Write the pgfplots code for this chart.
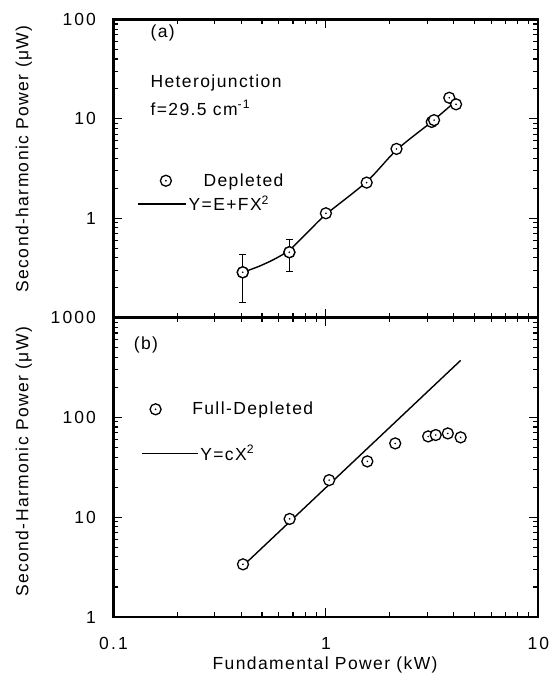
\documentclass[border=0pt]{standalone}
\usepackage{pgfplots}
\pgfplotsset{compat=1.18}
\usepackage{fontspec}
\setmainfont{Liberation Sans}[LetterSpace=8]
\newfontfamily\tickfont{Liberation Sans}[LetterSpace=12]
\pgfdeclareplotmark{cdot}{%
  \pgfsetfillcolor{white}%
  \pgfpathcircle{\pgfpointorigin}{\pgfplotmarksize}\pgfusepathqfillstroke
  \pgfsetfillcolor{black}%
  \pgfpathcircle{\pgfpointorigin}{0.9bp}\pgfusepathqfill}
\pgfplotsset{
  leglineA/.style={legend image code/.code={\draw[##1] (0bp,0bp) -- (48bp,0bp);}},
  legmarkA/.style={legend image code/.code={\draw[##1] plot coordinates {(28bp,0bp)}; \path[draw=none] (0bp,0bp) (48bp,0bp);}},
  leglineB/.style={legend image code/.code={\draw[##1] (0bp,0bp) -- (56bp,0bp);}},
  legmarkB/.style={legend image code/.code={\draw[##1] plot coordinates {(14bp,0bp)}; \path[draw=none] (0bp,0bp) (56bp,0bp);}},
}
\begin{document}
\begin{tikzpicture}
\useasboundingbox (0,0) rectangle (550bp,675bp);
% ---------- panel (a)
\begin{axis}[
  xmode=log, ymode=log, scale only axis, width=424.8bp, height=298bp,
  at={(113.5bp,357.5bp)}, anchor=south west,
  xmin=0.1, xmax=10, ymin=0.1, ymax=100,
  axis line style={line width=2.2bp},
  tick style={line width=1.1bp, black},
  major tick length=9bp, minor tick length=5bp,
  tick align=inside,
  xtick={0.1,1,10}, xticklabels={},
  minor xtick={0.2,0.3,0.4,0.5,0.6,0.7,0.8,0.9,2,3,4,5,6,7,8,9},
  ytick={0.1,1,10,100}, yticklabels={,1,10,100},
  minor ytick={0.2,0.3,0.4,0.5,0.6,0.7,0.8,0.9,2,3,4,5,6,7,8,9,20,30,40,50,60,70,80,90},
  font=\fontsize{17.5bp}{21bp}\selectfont,
  tick label style={font=\fontsize{17.5bp}{21bp}\tickfont},
  yticklabel style={xshift=-14bp},
  ylabel={Second-harmonic Power (μW)},
  ylabel style={at={(axis description cs:-0.211,0.532)}, anchor=center},
  legend cell align=left,
  clip=false,
  reverse legend,
  legend style={draw=none, fill=none, inner sep=0pt, row sep=4bp,
    at={(axis description cs:0.0553,0.49)}, anchor=north west},
]
\addplot[black, line width=1.4bp, smooth, leglineA]
  coordinates {(0.406,0.285) (0.48,0.325) (0.57,0.385) (0.673,0.478) (0.82,0.72)
   (1.00,1.09) (1.556,2.33) (2.15,4.85) (3.15,9.35) (4.05,14.8)};
\addlegendentry{Y=E+FX\textsuperscript{2}}
\addplot[black, only marks, mark=cdot, mark size=5.5bp,
  mark options={line width=1.3bp, draw=black}, forget plot,
  error bars/.cd, y dir=both, y explicit,
  error bar style={line width=1.3bp, black},
  error mark options={rotate=90, mark size=3.7bp, line width=1.3bp}]
  table[x=x, y=y, y error plus=ep, y error minus=em] {
  x      y      ep     em
  0.406  0.285  0.148  0.143
  0.673  0.454  0.159  0.165
};
\addplot[black, only marks, mark=cdot, mark size=5.5bp,
  mark options={line width=1.3bp, draw=black}, legmarkA]
  table {
  x      y
  0.406  0.285
  0.673  0.454
  1.00   1.12
  1.556  2.28
  2.15   4.98
  3.15   9.30
  3.23   9.70
  3.81   16.3
  4.10   14.0
};
\addlegendentry{\hspace*{15bp}Depleted}
\node[anchor=base west] at (rel axis cs:0.079,0.9396) {(a)};
\node[anchor=base west] at (rel axis cs:0.079,0.7725) {Heterojunction};
\node[anchor=base west] at (rel axis cs:0.079,0.6795) {f=29.5 cm\textsuperscript{-1}};
\end{axis}
% ---------- panel (b)
\begin{axis}[
  xmode=log, ymode=log, scale only axis, width=424.8bp, height=299.5bp,
  at={(113.5bp,58bp)}, anchor=south west,
  xmin=0.1, xmax=10, ymin=1, ymax=1000,
  axis line style={line width=2.2bp},
  tick style={line width=1.1bp, black},
  major tick length=9bp, minor tick length=5bp,
  tick align=inside,
  xtick={0.1,1,10}, xticklabels={0.1,1,10},
  minor xtick={0.2,0.3,0.4,0.5,0.6,0.7,0.8,0.9,2,3,4,5,6,7,8,9},
  ytick={1,10,100,1000}, yticklabels={1,10,100,1000},
  minor ytick={2,3,4,5,6,7,8,9,20,30,40,50,60,70,80,90,200,300,400,500,600,700,800,900},
  font=\fontsize{17.5bp}{21bp}\selectfont,
  tick label style={font=\fontsize{17.5bp}{21bp}\tickfont},
  yticklabel style={xshift=-14bp},
  xticklabel style={yshift=-17bp},
  xlabel={Fundamental Power (kW)},
  xlabel style={at={(axis description cs:0.498,-0.1755)}, anchor=base},
  ylabel={Second-Harmonic Power (μW)},
  ylabel style={at={(axis description cs:-0.211,0.518)}, anchor=center},
  legend cell align=left,
  clip=false,
  reverse legend,
  legend style={draw=none, fill=none, inner sep=0pt, row sep=25bp,
    at={(axis description cs:0.064,0.7245)}, anchor=north west},
]
\addplot[black, line width=1.4bp, leglineB]
  coordinates {(0.41,3.3) (4.31,372)};
\addlegendentry{Y=cX\textsuperscript{2}}
\addplot[black, only marks, mark=cdot, mark size=5.5bp,
  mark options={line width=1.3bp, draw=black}, legmarkB]
  table {
  x      y
  0.407  3.37
  0.675  9.6
  1.036  23.5
  1.567  36.2
  2.12   54.8
  3.03   64.4
  3.29   66.5
  3.75   69.0
  4.31   63.0
};
\addlegendentry{\hspace*{-8bp}Full-Depleted}
\node[anchor=base west] at (rel axis cs:0.0395,0.892) {(b)};
\end{axis}
\end{tikzpicture}
\end{document}
